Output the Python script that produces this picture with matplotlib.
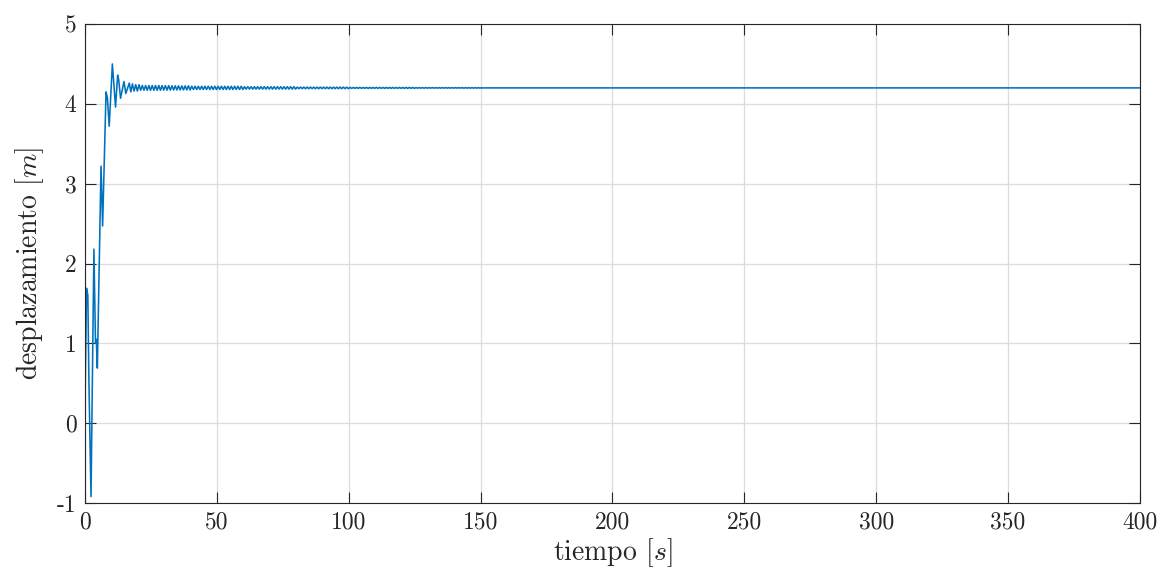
import matplotlib
matplotlib.use("Agg")
import matplotlib.pyplot as plt
import numpy as np

plt.rcParams['font.family'] = 'serif'
plt.rcParams['font.serif'] = ['cmr10', 'DejaVu Serif']
plt.rcParams['mathtext.fontset'] = 'cm'
plt.rcParams['axes.unicode_minus'] = False
plt.rcParams['axes.formatter.use_mathtext'] = False

# transient part (time s, displacement m)
t_start = [0, 0.6, 1.1, 1.5, 2.3, 3.4, 4.0, 4.3, 4.7, 6.1, 6.7, 8.0, 8.5, 9.2,
           10.4, 11.6, 12.4, 12.8, 13.5, 14.8, 15.5, 16.8, 17.4]
y_start = [0.15, 1.69, 1.60, 0.54, -0.92, 2.18, 1.00, 1.05, 0.69, 3.22, 2.47, 4.15, 4.08, 3.72,
           4.50, 3.96, 4.36, 4.30, 4.07, 4.28, 4.13, 4.26, 4.15]

# small ringing around 4.2, sampled every 0.625 s from 18 s
y_ring = (
    [4.25, 4.16, 4.24, 4.16, 4.24, 4.17, 4.23, 4.17, 4.23, 4.17, 4.23, 4.17]
    + [4.23, 4.17, 4.23, 4.17, 4.23, 4.17, 4.228, 4.172, 4.228, 4.172, 4.228, 4.172,
       4.226, 4.174, 4.226, 4.174, 4.226, 4.174, 4.225, 4.175, 4.225, 4.175, 4.225, 4.175]
    + [4.22, 4.18] * 16
    + [4.215, 4.185] * 16
    + [4.21, 4.19] * 16
    + [4.206, 4.194] * 20
    + [4.203, 4.197] * 20
)
t_ring = 18 + 0.625 * np.arange(len(y_ring))

t_end = [150, 400]
y_end = [4.2, 4.2]

t = np.concatenate([t_start, t_ring, t_end])
y = np.concatenate([y_start, y_ring, y_end])

fig = plt.figure(figsize=(11.62, 5.79), dpi=100)
ax = fig.add_axes([0.0731, 0.1313, 0.9079, 0.8272])
ax.plot(t, y, color='#0072BD', linewidth=1.15)

ax.set_xlim(0, 400)
ax.set_ylim(-1, 5)
ax.set_xticks(np.arange(0, 401, 50))
ax.set_yticks(np.arange(-1, 6, 1))
ax.grid(True, color='#dcdcdc', linewidth=0.9)
ax.set_axisbelow(True)
ax.tick_params(direction='in', length=7.6, width=0.8, top=True, right=True,
               labelsize=17, colors='#262626', pad=6)
for s in ax.spines.values():
    s.set_color('#262626')
    s.set_linewidth(0.8)

ax.set_xlabel(r'tiempo $[s]$', fontsize=20, color='#262626', labelpad=2)
ax.set_ylabel(r'desplazamiento $[m]$', fontsize=20, color='#262626', labelpad=8)

fig.savefig('out.png', dpi=100)
